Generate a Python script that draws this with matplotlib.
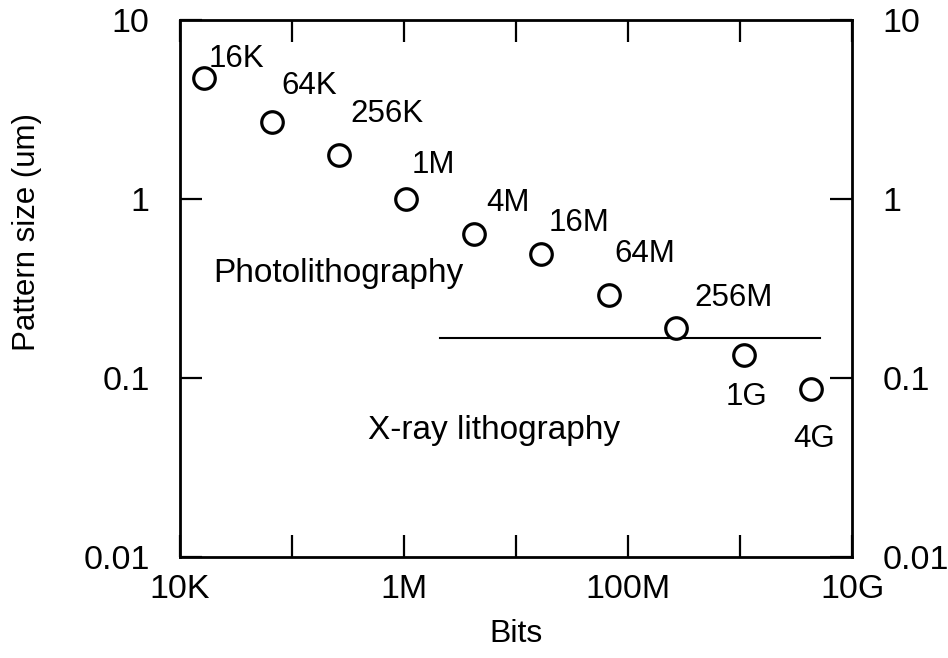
import matplotlib.pyplot as plt
import numpy as np

plt.rcParams['font.family'] = ['Liberation Sans', 'DejaVu Sans']

# DRAM generations: capacity (bits) and pattern size (um)
labels = ['16K', '64K', '256K', '1M', '4M', '16M', '64M', '256M', '1G', '4G']
bits = [2 ** 14, 2 ** 16, 2 ** 18, 2 ** 20, 2 ** 22, 2 ** 24, 2 ** 26, 2 ** 28, 2 ** 30, 2 ** 32]
pattern_size = [4.7, 2.7, 1.75, 1.0, 0.64, 0.49, 0.29, 0.19, 0.135, 0.087]

# limit between photolithography and X-ray lithography
limit_size = 0.168
limit_bits = [2.1e6, 5.2e9]

x_ticks = [1e4, 1e5, 1e6, 1e7, 1e8, 1e9, 1e10]
x_tick_labels = ['10K', '', '1M', '', '100M', '', '10G']
y_ticks = [0.01, 0.1, 1, 10]
y_tick_labels = ['0.01', '0.1', '1', '10']

# label offsets in points (dx, dy to baseline-left of text)
offsets = [(3, 8), (7, 20), (8, 24), (4, 19), (9, 16), (5, 17), (4, 24), (13, 16), (-13, -36), (-13, -42)]

fig = plt.figure(figsize=(9.48, 6.58), dpi=100)
ax = fig.add_axes([0.190, 0.153, 0.709, 0.817])

ax.plot(bits, pattern_size, 'o', markersize=15.5, markerfacecolor='white',
        markeredgecolor='black', markeredgewidth=2.3, zorder=3)
ax.plot(limit_bits, [limit_size, limit_size], color='black', linewidth=1.5)

for lab, xv, yv, off in zip(labels, bits, pattern_size, offsets):
    ax.annotate(lab, (xv, yv), xytext=off, textcoords='offset points',
                fontsize=22.5, ha='left', va='baseline')

ax.text(1.97e4, 0.346, 'Photolithography', fontsize=24, ha='left', va='baseline')
ax.text(4.8e5, 0.0455, 'X-ray lithography', fontsize=24, ha='left', va='baseline')

ax.set_xscale('log')
ax.set_yscale('log')
ax.set_xlim(1e4, 1e10)
ax.set_ylim(0.01, 10)
ax.set_xticks(x_ticks)
ax.set_xticklabels(x_tick_labels)
ax.set_yticks(y_ticks)
ax.set_yticklabels(y_tick_labels)
ax.minorticks_off()

ax.tick_params(axis='both', direction='in', length=16, width=1.6, labelsize=24.5,
               top=True, right=True, labelright=True)
ax.tick_params(axis='x', pad=12)
ax.tick_params(axis='y', pad=22)

for s in ax.spines.values():
    s.set_linewidth(2)

ax.set_xlabel('Bits', fontsize=23, labelpad=10)
ax.set_ylabel('Pattern size (um)', fontsize=22.5)
ax.yaxis.set_label_coords(-0.205, 0.606)

fig.savefig('out.png', dpi=100)
